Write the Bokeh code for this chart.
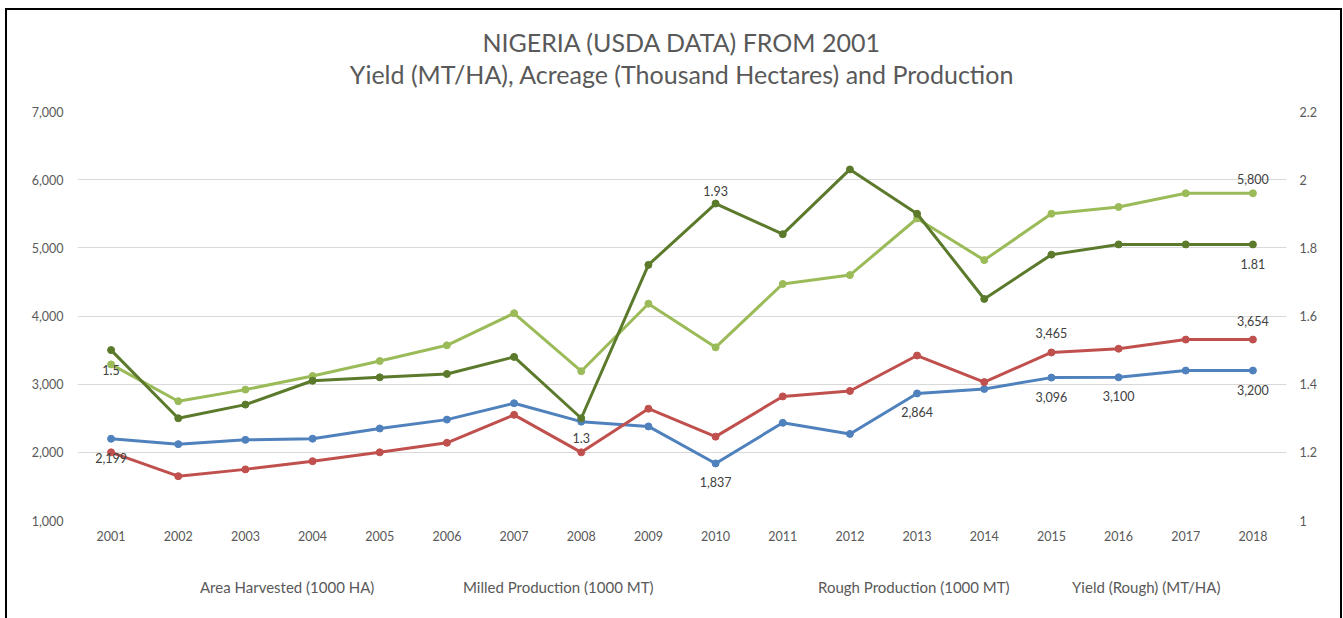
from bokeh.plotting import figure
from bokeh.layouts import column
from bokeh.models import (Range1d, LinearAxis, FactorRange, NumeralTickFormatter,
                          CustomJSTickFormatter, FixedTicker, Legend, LegendItem,
                          Title, ColumnDataSource)
from bokeh.core.properties import value
from bokeh.embed import file_html
from bokeh.resources import INLINE

years = [str(y) for y in range(2001, 2019)]
area_harvested = [2199, 2120, 2183, 2200, 2350, 2480, 2720, 2450, 2380, 1837,
                  2433, 2270, 2864, 2930, 3096, 3100, 3200, 3200]
milled_production = [2000, 1650, 1750, 1870, 2000, 2140, 2550, 2000, 2640, 2230,
                     2820, 2900, 3420, 3030, 3465, 3520, 3654, 3654]
rough_production = [3290, 2750, 2920, 3120, 3340, 3570, 4040, 3190, 4180, 3540,
                    4470, 4600, 5430, 4820, 5500, 5600, 5800, 5800]
yield_rough = [1.5, 1.3, 1.34, 1.41, 1.42, 1.43, 1.48, 1.3, 1.75, 1.93,
               1.84, 2.03, 1.9, 1.65, 1.78, 1.81, 1.81, 1.81]

left_ticks = [1000, 2000, 3000, 4000, 5000, 6000, 7000]
right_ticks = [1.0, 1.2, 1.4, 1.6, 1.8, 2.0, 2.2]

series_names = ["Area Harvested (1000 HA)", "Milled Production (1000 MT)",
                "Rough Production (1000 MT)", "Yield (Rough) (MT/HA)"]
title_lines = ["NIGERIA (USDA DATA) FROM 2001",
               "Yield (MT/HA), Acreage (Thousand Hectares) and Production"]

# which points carry data labels
area_label_years = ["2001", "2010", "2013", "2015", "2016", "2018"]
milled_label_years = ["2015", "2018"]
rough_label_years = ["2018"]
yield_below_years = ["2001", "2008", "2018"]
yield_above_years = ["2010"]

BLUE = "#4F81BD"
RED = "#C0504D"
LGREEN = "#9BBB59"
DGREEN = "#5B7A2B"
COLORS = [BLUE, RED, LGREEN, DGREEN]
FONT = "Lato"
TXT = "#595959"
LBL = "#404040"

p = figure(width=1343, height=548, x_range=FactorRange(*years),
           y_range=Range1d(1000, 7000), output_backend="svg",
           toolbar_location=None, min_border_left=77, min_border_right=57,
           min_border_top=111, min_border_bottom=28)
p.extra_y_ranges = {"yield": Range1d(1, 2.2)}
p.outline_line_color = None
p.background_fill_color = "white"
p.border_fill_color = None

# titles: spacer next to the plot, then line 2, then line 1 (outermost)
p.title = None
spacer = Title(text=" ", text_font_size="1px", standoff=20)
t2 = Title(text=title_lines[1], align="center", text_font=FONT, text_font_size="25px",
           text_color=TXT, text_font_style="normal", standoff=0)
t1 = Title(text=title_lines[0], align="center", text_font=FONT, text_font_size="25px",
           text_color=TXT, text_font_style="normal", standoff=0)
p.add_layout(spacer, "above")
p.add_layout(t2, "above")
p.add_layout(t1, "above")

# axes styling
p.yaxis.ticker = FixedTicker(ticks=left_ticks)
p.yaxis.formatter = NumeralTickFormatter(format="0,0")
raxis = LinearAxis(y_range_name="yield", ticker=FixedTicker(ticks=right_ticks),
                   formatter=CustomJSTickFormatter(code="return String(Number(tick.toFixed(1)));"))
p.add_layout(raxis, "right")
for ax in [p.xaxis[0], p.yaxis[0], raxis]:
    ax.axis_line_color = None
    ax.major_tick_line_color = None
    ax.minor_tick_line_color = None
    ax.major_tick_out = 0
    ax.major_tick_in = 0
    ax.minor_tick_out = 0
    ax.minor_tick_in = 0
    ax.major_label_text_font = FONT
    ax.major_label_text_font_size = "12.5px"
    ax.major_label_text_color = TXT
p.yaxis[0].major_label_standoff = 14
raxis.major_label_standoff = 13
p.xaxis.major_label_standoff = 10

p.xgrid.grid_line_color = None
p.ygrid.grid_line_color = "#D9D9D9"
p.ygrid.grid_line_width = 1
p.ygrid.ticker = FixedTicker(ticks=left_ticks)

src = ColumnDataSource(dict(year=years, area=area_harvested, milled=milled_production,
                            rough=rough_production, yld=yield_rough))

for col, color, rng in [("area", BLUE, "default"), ("milled", RED, "default"),
                        ("rough", LGREEN, "default"), ("yld", DGREEN, "yield")]:
    p.line("year", col, source=src, line_color=color, line_width=3, y_range_name=rng)
    p.scatter("year", col, source=src, marker="circle", size=7, fill_color=color,
              line_color=color, y_range_name=rng)

# data labels
def add_labels(label_years, values, fmt, y_off, rng="default", align="center", x_off=0):
    ys = [values[years.index(y)] for y in label_years]
    txt = [fmt(v) for v in ys]
    p.text(x=label_years, y=ys, text=txt, y_range_name=rng,
           text_align=align, text_baseline="middle", x_offset=x_off, y_offset=y_off,
           text_font=value(FONT), text_font_size="12.5px", text_color=LBL)

add_labels(area_label_years, area_harvested, lambda v: f"{v:,}", 19)
add_labels(milled_label_years, milled_production, lambda v: f"{v:,}", -19)
add_labels(rough_label_years, rough_production, lambda v: f"{v:,}", -14)
add_labels(yield_below_years, yield_rough, lambda v: f"{v:g}", 20, rng="yield")
add_labels(yield_above_years, yield_rough, lambda v: f"{v:g}", -13, rng="yield")

# legend strip: a second figure whose whole area is the plot frame
leg = figure(width=1343, height=70, x_range=Range1d(0, 1), y_range=Range1d(0, 1),
             output_backend="svg", toolbar_location=None,
             x_axis_location=None, y_axis_location=None, min_border=0)
leg.outline_line_color = None
leg.background_fill_color = None
leg.border_fill_color = None
leg.grid.visible = False
legend_x = [93, 356, 711, 965]
for name, color, lx in zip(series_names, COLORS, legend_x):
    lr = leg.line(x=[], y=[], line_color=color, line_width=3)
    sr = leg.scatter(x=[], y=[], marker="circle", size=7, fill_color=color, line_color=color)
    lg = Legend(items=[LegendItem(label=name, renderers=[lr, sr])],
                location=(lx, 21), orientation="horizontal",
                padding=0, margin=0, spacing=0, border_line_color=None,
                background_fill_alpha=0, glyph_width=28, glyph_height=20,
                label_standoff=2, label_text_font=FONT, label_text_font_size="15px",
                label_text_color=TXT, label_height=20, label_text_baseline="middle")
    leg.add_layout(lg, "center")

layout = column(p, leg, spacing=0)
layout.styles = {"box-shadow": ("inset 5px 0 0 0 white, inset 0 8px 0 0 white, inset -1px 0 0 0 white, "
                                "inset 7px 0 0 0 black, inset 0 10px 0 0 black, inset -3px 0 0 0 black"),
                 "background-color": "white"}

open("out.html", "w").write(file_html(layout, INLINE))
